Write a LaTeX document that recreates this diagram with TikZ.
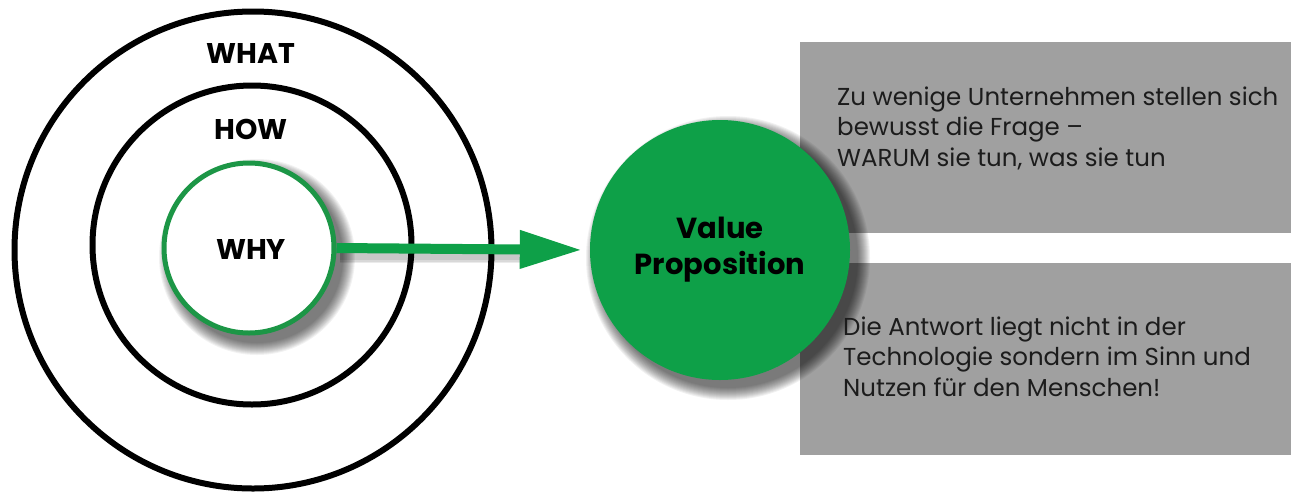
\documentclass[tikz,border=0pt]{standalone}
\usepackage{fontspec}
\setmainfont{Poppins}
\usetikzlibrary{arrows.meta}
\definecolor{vpgreen}{RGB}{14,160,72}
\definecolor{ringgreen}{RGB}{28,150,70}
\definecolor{boxgray}{RGB}{160,160,160}
\definecolor{txt}{RGB}{28,28,28}
\begin{document}
\begin{tikzpicture}[x=1pt,y=-1pt,
  ring/.style={circle,draw=black,line width=6pt,fill=white,inner sep=0pt},
  whyring/.style={circle,draw=ringgreen,line width=5pt,fill=white,inner sep=0pt},
  vpcircle/.style={circle,fill=vpgreen,inner sep=0pt,minimum size=260pt,
     font=\fontsize{29}{36}\selectfont\bfseries,text=black,align=center},
  ringlabel/.style={font=\fontsize{28.5}{32}\selectfont\bfseries,text=black,inner sep=0pt},
  graybox/.style={fill=boxgray,inner sep=0pt,anchor=north west,minimum width=491pt},
  boxtext/.style={font=\fontsize{24.5}{30.5}\selectfont,text=txt,align=left,inner sep=0pt,anchor=base west},
  arrowline/.style={draw=vpgreen,line width=10pt,-{Triangle[length=62pt,width=36pt]}}
]
\useasboundingbox (0,0) rectangle (1291,491);

% rings
\node[ring,minimum size=477pt] (what) at (253,250) {};
\node[ring,minimum size=319pt] (how) at (252,245) {};
% shadow of WHY ring
\foreach \i in {0,...,12}{
  \fill[black,opacity=0.05] (257,257) circle ({98-\i});
}
\node[whyring,minimum size=170pt] (why) at (249,248) {};

\node[ringlabel] (whatlbl) at (251,53) {WHAT};
\node[ringlabel] (howlbl) at (251,129) {HOW};
\node[ringlabel] (whylbl) at (251,249) {WHY};

% gray boxes
\node[graybox,minimum height=191pt] (box1) at (800,42) {};
\node[graybox,minimum height=192pt] (box2) at (800,263) {};

% value proposition circle with shadow
\foreach \i in {0,...,12}{
  \fill[black,opacity=0.055] (728,258) circle ({142-\i});
}
\node[vpcircle] (vp) at (720,250) {Value\\Proposition};

% arrow with shadow
\coordinate (ashadowA) at (340,255);
\coordinate (ashadowB) at (520,255);
\foreach \w in {16,13,10}{
  \draw[black,opacity=0.08,line width=\w pt] (ashadowA) -- (ashadowB);
}
\draw[arrowline,shorten >=8pt] (why.east) -- (vp.west);

% texts
\node[boxtext] (t1) at (837,166) {Zu wenige Unternehmen stellen sich\\bewusst die Frage --\\WARUM sie tun, was sie tun};
\node[boxtext] (t2) at (843,396) {Die Antwort liegt nicht in der\\Technologie sondern im Sinn und\\Nutzen für den Menschen!};
\end{tikzpicture}
\end{document}
